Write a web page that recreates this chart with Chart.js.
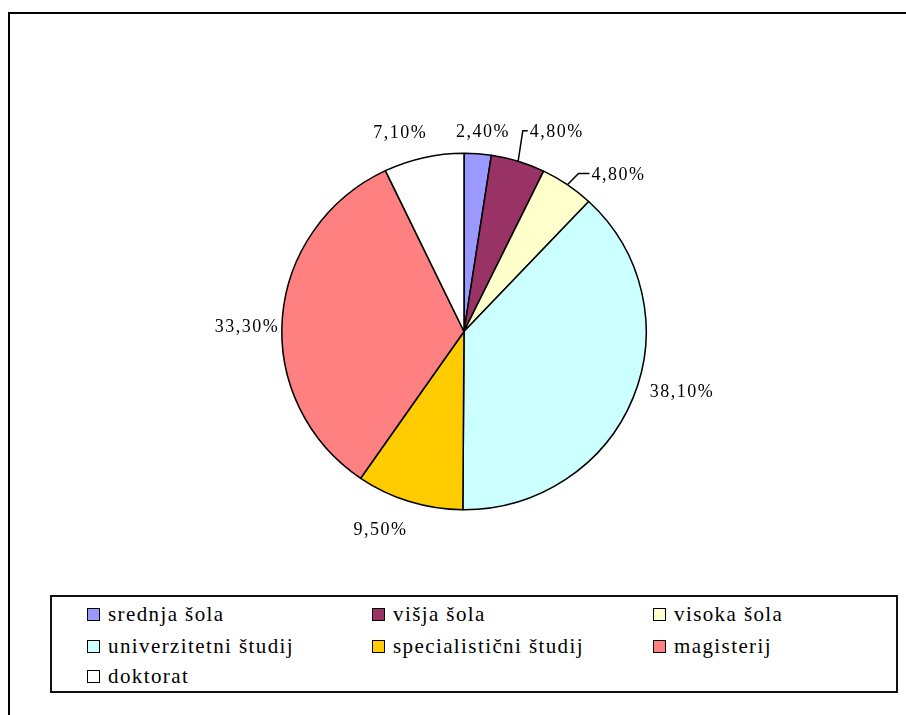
<!DOCTYPE html>
<html>
<head>
<meta charset="utf-8">
<script src="https://cdn.jsdelivr.net/npm/chart.js@4/dist/chart.umd.min.js"></script>
<style>
  html, body { margin: 0; padding: 0; background: #fff; overflow: hidden; }
  #wrap { position: relative; width: 906px; height: 715px; }
  #frame { position: absolute; left: 8px; top: 12px; width: 1000px; height: 1000px;
           border: 2px solid #000; box-sizing: border-box; }
  #chart { position: absolute; left: 0; top: 0; }
  #legend { position: absolute; left: 50px; top: 595px; width: 848px; height: 98px;
            border: 2px solid #111; box-sizing: border-box; background: #fff;
            font-family: "Liberation Serif", "Times New Roman", serif; font-size: 21px;
            letter-spacing: 1.4px; color: #000; }
  .item { position: absolute; height: 31px; line-height: 31px; white-space: nowrap; }
  .swatch { display: inline-block; width: 13px; height: 13px; border: 1.5px solid #000;
            box-sizing: border-box; vertical-align: middle; margin-right: 8px; position: relative; top: -2px; }
</style>
</head>
<body>
<div id="wrap">
  <div id="frame"></div>
  <canvas id="chart" width="906" height="715"></canvas>
  <div id="legend"></div>
</div>
<script>
const categories = ['srednja šola', 'višja šola', 'visoka šola', 'univerzitetni študij',
                    'specialistični študij', 'magisterij', 'doktorat'];
const shares = [2.4, 4.8, 4.8, 38.1, 9.5, 33.3, 7.1];
const sliceColors = ['#9999FF', '#993366', '#FFFFCC', '#CCFFFF', '#FFCC00', '#FF8080', '#FFFFFF'];

// pie is drawn slightly wider than tall
const stretchX = 1.022;

// label nudges from the default outside point, leader = horizontal leader length
const labelTweaks = [
    { dx: 3.5, dy: 0 },
    { dx: 5, dy: -7.6, leader: 5 },
    { dx: 11.4, dy: 9, leader: 11 },
    { dx: 28, dy: -14 },
    { dx: -22, dy: 8 },
    { dx: -13, dy: 11 },
    { dx: -18.5, dy: -2.5 }
];

function fmtPct(v) {
    return v.toFixed(2).replace('.', ',') + '%';
}

const stretchPie = {
    id: 'stretchPie',
    beforeDatasetsDraw(chart) {
        const arc = chart.getDatasetMeta(0).data[0];
        const ctx = chart.ctx;
        ctx.save();
        ctx.translate(arc.x, arc.y);
        ctx.scale(stretchX, 1);
        ctx.translate(-arc.x, -arc.y);
    },
    afterDatasetsDraw(chart) {
        chart.ctx.restore();
    }
};

const outsideLabels = {
    id: 'outsideLabels',
    afterDatasetsDraw(chart) {
        const ctx = chart.ctx;
        const meta = chart.getDatasetMeta(0);
        ctx.save();
        ctx.font = '18px "Liberation Serif", "Times New Roman", serif';
        ctx.letterSpacing = '1.5px';
        ctx.fillStyle = '#000';
        ctx.strokeStyle = '#000';
        ctx.lineWidth = 1.5;
        ctx.textBaseline = 'middle';
        meta.data.forEach((arc, i) => {
            const mid = (arc.startAngle + arc.endAngle) / 2;
            const r = arc.outerRadius;
            const ax = arc.x + Math.cos(mid) * (r + 22) * stretchX;
            const ay = arc.y + Math.sin(mid) * (r + 22);
            const tw = labelTweaks[i];
            const text = fmtPct(shares[i]);
            if (tw.leader) {
                const left = ax + tw.dx;
                const ty = ay + tw.dy;
                const px = arc.x + Math.cos(mid) * r * stretchX;
                const py = arc.y + Math.sin(mid) * r;
                ctx.beginPath();
                ctx.moveTo(px, py);
                ctx.lineTo(left - 2 - tw.leader, ty - 2);
                ctx.lineTo(left - 2, ty - 2);
                ctx.stroke();
                ctx.textAlign = 'left';
                ctx.fillText(text, left, ty);
            } else {
                ctx.textAlign = 'center';
                ctx.fillText(text, ax + tw.dx, ay + tw.dy);
            }
        });
        ctx.restore();
    }
};

new Chart(document.getElementById('chart'), {
    type: 'pie',
    data: {
        labels: categories,
        datasets: [{
            data: shares,
            backgroundColor: sliceColors,
            borderColor: '#000',
            borderWidth: 1.5
        }]
    },
    options: {
        responsive: false,
        animation: false,
        layout: { padding: { left: 285, right: 263, top: 152.5, bottom: 204.5 } },
        plugins: {
            legend: { display: false },
            tooltip: { enabled: false }
        }
    },
    plugins: [stretchPie, outsideLabels]
});

// legend laid out in three columns
const legendEl = document.getElementById('legend');
const colX = [35, 320, 601];
const rowY = [2, 34, 64];
categories.forEach((name, i) => {
    const item = document.createElement('div');
    item.className = 'item';
    item.style.left = colX[i % 3] + 'px';
    item.style.top = rowY[Math.floor(i / 3)] + 'px';
    const sw = document.createElement('span');
    sw.className = 'swatch';
    sw.style.background = sliceColors[i];
    item.appendChild(sw);
    item.appendChild(document.createTextNode(name));
    legendEl.appendChild(item);
});
</script>
</body>
</html>
